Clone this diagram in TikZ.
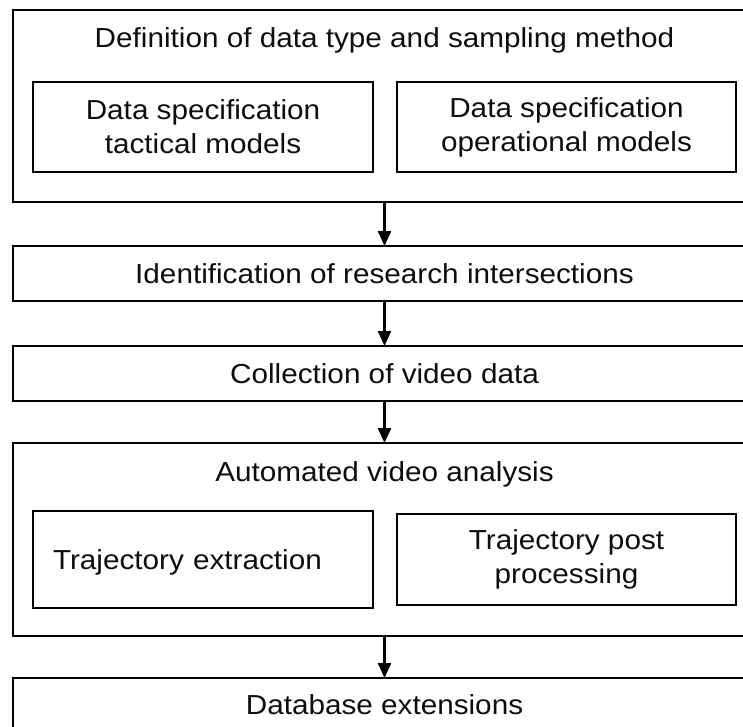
\documentclass[tikz,border=0pt]{standalone}
\usepackage{fontspec}
\setmainfont{Liberation Sans}[FakeStretch=1.08]
\usetikzlibrary{arrows.meta}
\begin{document}
\begin{tikzpicture}[x=1pt,y=-1pt,
  every node/.style={font=\fontsize{27.5pt}{34pt}\selectfont, text=black!95},
  frame/.style={draw, line width=2pt, inner sep=0pt, outer sep=0pt},
  onebox/.style={frame, text height=19.7pt, text depth=0pt},
  twobox/.style={frame, align=center},
  title/.style={inner sep=0pt, anchor=base},
  arr/.style={line width=2.3pt, -{Triangle[length=15pt,width=13pt]}}]
\useasboundingbox (0,0) rectangle (743,726);
\clip (0,0) rectangle (743,726);
% block 1
\node[frame, minimum width=743pt, minimum height=192pt] (b1) at (384.5,106) {};
\node[title] (t1) at (384.5,47.7) {Definition of data type and sampling method};
\node[twobox, minimum width=340pt, minimum height=90pt] (i1L) at (203,127) {Data specification\\tactical models};
\node[twobox, minimum width=339pt, minimum height=90pt] (i1R) at (566.5,127) {Data specification\\operational models};
% block 2, 3
\node[onebox, minimum width=743pt, minimum height=55pt] (b2) at (384.5,273.5) {Identification of research intersections};
\node[onebox, minimum width=743pt, minimum height=55pt] (b3) at (384.5,373.5) {Collection of video data};
% block 4
\node[frame, minimum width=743pt, minimum height=193pt] (b4) at (384.5,539.5) {};
\node[title] (t4) at (384.5,481.7) {Automated video analysis};
\node[onebox, text width=300pt, inner xsep=20pt, align=left, minimum height=97pt] (i4L) at (203,559.5) {Trajectory extraction};
\node[twobox, minimum width=339pt, minimum height=91pt] (i4R) at (566.5,559.5) {Trajectory post\\processing};
% block 5
\node[onebox, minimum width=743pt, minimum height=54pt] (b5) at (384.5,705) {Database extensions};
% arrows
\draw[arr] (b1.south) -- (b2.north);
\draw[arr] (b2.south) -- (b3.north);
\draw[arr] (b3.south) -- (b4.north);
\draw[arr] (b4.south) -- (b5.north);
\end{tikzpicture}
\end{document}
